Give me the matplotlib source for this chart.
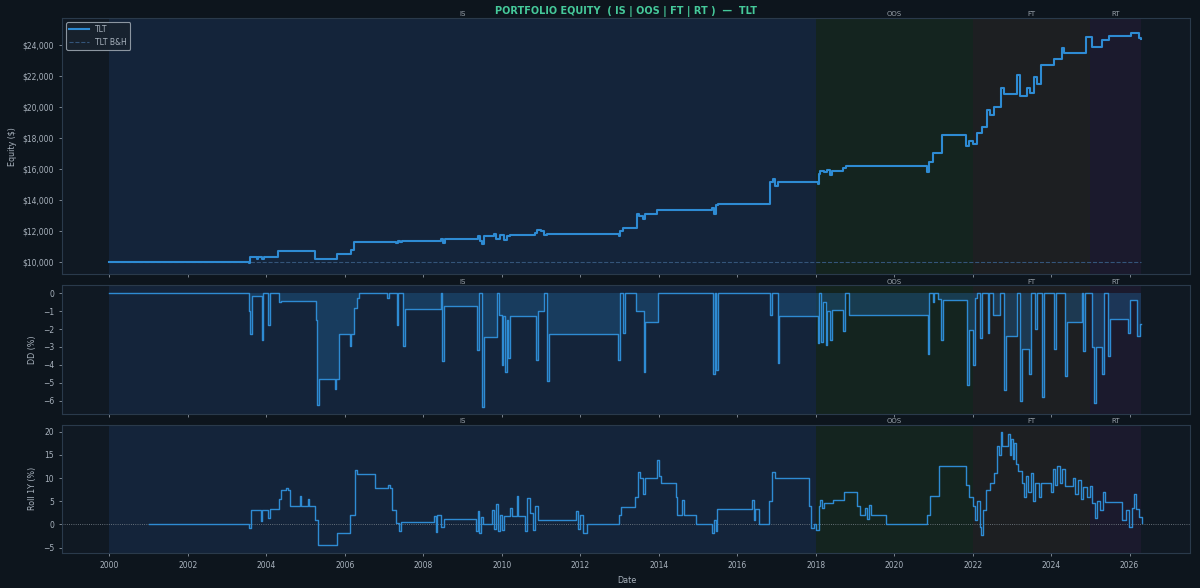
import matplotlib
matplotlib.use("Agg")
import matplotlib.pyplot as plt
from matplotlib.ticker import FuncFormatter

# equity curve (year, $) - step points
eq_year = [2000.00, 2003.55, 2003.58, 2003.75, 2003.78, 2003.90, 2003.93, 2004.30, 2005.25, 2005.80,
           2006.15, 2006.22, 2007.30, 2007.35, 2007.40, 2007.45, 2008.44, 2008.50, 2008.55, 2009.40,
           2009.45, 2009.50, 2009.55, 2009.80, 2009.85, 2009.95, 2010.05, 2010.12, 2010.20, 2010.85,
           2010.90, 2011.00, 2011.08, 2011.16, 2012.98, 2013.02, 2013.10, 2013.45, 2013.50, 2013.60,
           2013.65, 2013.95, 2015.35, 2015.40, 2015.45, 2015.50, 2016.83, 2016.90, 2016.97, 2017.03,
           2018.06, 2018.08, 2018.12, 2018.20, 2018.30, 2018.36, 2018.42, 2018.70, 2018.76, 2020.84,
           2020.88, 2021.00, 2021.21, 2021.82, 2021.90, 2022.00, 2022.12, 2022.25, 2022.37, 2022.45,
           2022.54, 2022.71, 2022.80, 2023.14, 2023.20, 2023.39, 2023.45, 2023.56, 2023.65, 2023.73,
           2024.07, 2024.28, 2024.33, 2024.79, 2024.88, 2025.05, 2025.30, 2025.47, 2026.03, 2026.24,
           2026.30]
eq_val = [10000, 9950, 10370, 10200, 10370, 10210, 10380, 10730, 10190, 10520,
          10780, 11300, 11230, 11380, 11300, 11370, 11480, 11250, 11540, 11700,
          11350, 11200, 11700, 11800, 11500, 11780, 11450, 11700, 11780, 11880,
          12100, 12050, 11750, 11820, 11700, 12050, 12230, 13120, 13000, 12800,
          13100, 13360, 13500, 13100, 13700, 13770, 15200, 15390, 14950, 15160,
          15050, 15700, 15920, 15800, 15950, 15650, 15880, 16100, 16180, 15800,
          16500, 17080, 18220, 17470, 17850, 17600, 18330, 18750, 19820, 19500,
          20030, 21210, 20820, 22100, 20700, 21210, 20900, 21960, 21500, 22710,
          23080, 23780, 23460, 23500, 24530, 23890, 24320, 24570, 24810, 24470,
          24400]
bh_val = [10000, 10000]
bh_year = [2000.0, 2026.3]

# drawdown (%)
dd_year = [2000.00, 2003.55, 2003.58, 2003.62, 2003.88, 2003.92, 2004.05, 2004.08, 2004.32, 2004.36,
           2005.26, 2005.29, 2005.34, 2005.74, 2005.78, 2005.84, 2006.12, 2006.16, 2006.22, 2006.30,
           2006.35, 2007.08, 2007.12, 2007.32, 2007.36, 2007.48, 2007.52, 2008.44, 2008.48, 2008.53,
           2009.37, 2009.41, 2009.50, 2009.54, 2009.88, 2009.92, 2010.00, 2010.04, 2010.08, 2010.12,
           2010.16, 2010.20, 2010.86, 2010.92, 2011.07, 2011.14, 2011.19, 2012.97, 2013.02, 2013.10,
           2013.14, 2013.43, 2013.62, 2013.66, 2013.97, 2015.38, 2015.43, 2015.47, 2015.52, 2016.83,
           2016.88, 2017.03, 2017.07, 2018.05, 2018.09, 2018.14, 2018.18, 2018.25, 2018.30, 2018.36,
           2018.42, 2018.70, 2018.75, 2018.84, 2020.85, 2020.90, 2020.98, 2021.02, 2021.12, 2021.20,
           2021.24, 2021.86, 2021.90, 2022.02, 2022.06, 2022.12, 2022.20, 2022.24, 2022.38, 2022.42,
           2022.52, 2022.70, 2022.80, 2022.85, 2023.14, 2023.20, 2023.25, 2023.44, 2023.50, 2023.60,
           2023.65, 2023.77, 2023.81, 2024.07, 2024.12, 2024.35, 2024.40, 2024.78, 2024.82, 2024.87,
           2025.03, 2025.10, 2025.14, 2025.30, 2025.35, 2025.44, 2025.49, 2025.96, 2026.00, 2026.20,
           2026.26, 2026.30]
dd_val = [0, -1.0, -2.3, -0.15, -2.6, 0, -1.8, 0, -0.5, -0.45,
          -1.5, -6.25, -4.8, -5.35, -4.8, -2.25, -2.95, -2.25, -0.85, -0.3,
          0, -0.3, 0, -1.8, 0, -2.95, -0.9, 0, -3.8, -0.7,
          -3.15, 0, -6.35, -2.45, 0, -1.2, -4.0, -1.3, -4.4, -1.5,
          -3.6, -1.3, -3.7, -1.0, 0, -4.9, -2.3, -3.7, 0, -2.2,
          0, -1.0, -4.4, -1.6, 0, -4.5, 0, -4.3, 0, -1.2,
          0, -3.9, -1.3, -2.8, 0, -2.7, -0.5, -2.9, -1.0, -2.6,
          -0.95, -2.1, 0, -1.2, -3.4, 0, -0.5, 0, -0.35, -2.6,
          -0.4, -5.1, -2.05, -4.0, -0.3, 0, -2.5, 0, -2.2, 0,
          -1.2, 0, -5.4, -2.4, 0, -6.0, -3.1, -4.5, 0, -2.0,
          0, -5.8, 0, -3.1, 0, -4.6, -1.6, 0, -3.2, 0,
          -3.0, -6.1, -3.0, -4.5, 0, -3.5, -1.45, -2.2, -0.4, -2.4,
          -1.7, -1.7]

# rolling 1-year return (%)
roll_year = [2001.00, 2003.55, 2003.60, 2003.85, 2003.88, 2004.05, 2004.08, 2004.32, 2004.36, 2004.50,
             2004.54, 2004.61, 2004.85, 2004.88, 2005.05, 2005.08, 2005.25, 2005.32, 2005.80, 2006.14,
             2006.25, 2006.30, 2006.78, 2007.10, 2007.14, 2007.20, 2007.30, 2007.38, 2007.42, 2008.27,
             2008.32, 2008.36, 2008.45, 2008.52, 2009.33, 2009.38, 2009.42, 2009.48, 2009.52, 2009.75,
             2009.80, 2009.85, 2009.90, 2009.95, 2010.00, 2010.05, 2010.20, 2010.25, 2010.38, 2010.42,
             2010.60, 2010.65, 2010.72, 2010.80, 2010.85, 2010.92, 2011.88, 2011.93, 2012.00, 2012.08,
             2012.18, 2012.98, 2013.05, 2013.40, 2013.47, 2013.52, 2013.60, 2013.65, 2013.95, 2014.00,
             2014.05, 2014.43, 2014.47, 2014.60, 2014.65, 2014.95, 2015.36, 2015.42, 2015.46, 2015.49,
             2016.38, 2016.42, 2016.46, 2016.55, 2016.81, 2016.88, 2016.95, 2017.83, 2017.88, 2017.95,
             2018.02, 2018.08, 2018.12, 2018.16, 2018.22, 2018.45, 2018.72, 2019.06, 2019.14, 2019.25,
             2019.30, 2019.35, 2019.40, 2019.78, 2020.84, 2020.92, 2021.15, 2021.82, 2021.90, 2022.00,
             2022.05, 2022.10, 2022.18, 2022.22, 2022.27, 2022.35, 2022.45, 2022.55, 2022.62, 2022.68,
             2022.72, 2022.76, 2022.90, 2022.94, 2022.98, 2023.02, 2023.06, 2023.10, 2023.16, 2023.25,
             2023.32, 2023.36, 2023.42, 2023.48, 2023.54, 2023.60, 2023.70, 2023.75, 2024.00, 2024.05,
             2024.10, 2024.15, 2024.22, 2024.28, 2024.35, 2024.55, 2024.60, 2024.68, 2024.75, 2024.82,
             2024.92, 2025.00, 2025.05, 2025.12, 2025.18, 2025.25, 2025.32, 2025.38, 2025.80, 2025.90,
             2025.98, 2026.05, 2026.11, 2026.17, 2026.25, 2026.32]
roll_val = [0, -0.8, 3.1, 0.8, 3.1, 1.3, 3.3, 5.5, 7.4, 7.9,
            7.4, 3.9, 6.2, 3.9, 5.5, 3.9, 1.0, -4.4, -1.9, 2.0,
            11.8, 10.8, 7.8, 8.4, 7.8, 3.0, 0.4, -1.5, 0.5, 1.8,
            -1.6, 2.0, -0.5, 1.2, -1.5, 2.8, -1.8, 1.5, 0.0, 3.0,
            -1.0, 4.5, -1.5, 2.0, -1.2, 1.9, 3.5, 1.9, 6.2, 1.9,
            -1.5, 5.8, 2.5, -1.2, 4.0, 1.0, 2.8, -1.0, 2.0, -1.8,
            0.0, 2.0, 3.8, 6.0, 11.4, 10.0, 6.5, 10.0, 13.9, 10.5,
            8.9, 6.0, 2.1, 5.3, 2.1, 0.0, -1.9, 1.0, -1.5, 3.3,
            5.3, 1.0, 3.3, 0.0, 5.0, 11.4, 10.0, 4.0, -0.8, 0.0,
            -1.2, 4.0, 5.3, 3.5, 4.6, 5.3, 6.9, 4.0, 2.1, 3.5,
            1.2, 4.2, 2.1, 0.0, 2.1, 6.1, 12.5, 8.5, 6.0, 4.0,
            1.0, 5.0, -0.5, -2.3, 3.0, 7.4, 9.0, 11.1, 16.8, 15.0,
            20.0, 16.8, 19.5, 15.0, 18.5, 14.0, 17.5, 13.0, 11.5, 9.0,
            6.0, 10.5, 7.0, 11.0, 5.0, 9.0, 6.0, 9.0, 7.0, 12.0,
            8.5, 12.5, 9.0, 12.0, 8.2, 10.0, 6.5, 9.5, 5.5, 8.0,
            6.0, 8.2, 4.6, 1.3, 5.0, 3.0, 6.9, 4.9, 1.0, 3.0,
            -0.5, 3.5, 6.5, 3.3, 1.7, 0.3]

# sample periods
periods = ["IS", "OOS", "FT", "RT"]
period_start = [2000.0, 2018.0, 2022.0, 2025.0]
period_end = [2018.0, 2022.0, 2025.0, 2026.3]
period_color = ["#14243a", "#14241f", "#1d1f22", "#1b1a2d"]

BG = "#0d151d"
AX_BG = "#101923"
LINE = "#2e8bd3"
TXT = "#a9b3be"
SPINE = "#2a3a4b"

fig, axes = plt.subplots(3, 1, figsize=(12, 5.88), dpi=100, sharex=True,
                         gridspec_kw={"height_ratios": [2, 1, 1], "hspace": 0.065})
fig.patch.set_facecolor(BG)
plt.subplots_adjust(left=0.052, right=0.992, top=0.969, bottom=0.06)

for ax in axes:
    ax.set_facecolor(AX_BG)
    for s in ax.spines.values():
        s.set_color(SPINE)
        s.set_linewidth(0.8)
    ax.tick_params(colors="#8d97a2", labelcolor=TXT, labelsize=5.5, length=2.5, width=0.6)
    for name, a, b, c in zip(periods, period_start, period_end, period_color):
        ax.axvspan(a, b, color=c, zorder=0, lw=0)
        ax.text((a + b) / 2, 1.006, name, transform=ax.get_xaxis_transform(),
                ha="center", va="bottom", fontsize=5.0, color="#98a1aa")

# equity
ax = axes[0]
ax.plot(eq_year, eq_val, drawstyle="steps-post", color=LINE, lw=1.5, label="TLT", zorder=3)
ax.plot(bh_year, bh_val, color="#34557a", lw=0.8, ls="--", label="TLT B&H", zorder=2)
ax.set_ylabel("Equity ($)", color=TXT, fontsize=5.8)
ax.yaxis.set_major_formatter(FuncFormatter(lambda v, p: "${:,.0f}".format(v)))
ax.set_yticks([10000, 12000, 14000, 16000, 18000, 20000, 22000, 24000])
ax.set_ylim(9230, 25730)
ax.set_title("PORTFOLIO EQUITY  ( IS | OOS | FT | RT )  —  TLT", color="#45c99a",
             fontsize=7.0, fontweight="bold", pad=3)
leg = ax.legend(loc="upper left", fontsize=5.5, facecolor="#18222e", edgecolor="#9aa4ae",
                labelcolor=TXT, framealpha=0.9, borderpad=0.4, handlelength=2.6)
leg.get_frame().set_linewidth(0.8)

# drawdown
ax = axes[1]
ax.fill_between(dd_year, dd_val, 0, step="post", color="#1f5a8c", alpha=0.45, lw=0, zorder=2)
ax.plot(dd_year, dd_val, drawstyle="steps-post", color=LINE, lw=1.0, zorder=3)
ax.set_ylabel("DD (%)", color=TXT, fontsize=5.8)
ax.set_yticks([0, -1, -2, -3, -4, -5, -6])
ax.set_ylim(-6.7, 0.42)

# rolling 1y
ax = axes[2]
ax.axhline(0, color="#7f8891", lw=0.6, ls=":", zorder=2)
ax.plot(roll_year, roll_val, drawstyle="steps-post", color=LINE, lw=1.0, zorder=3)
ax.set_ylabel("Roll 1Y (%)", color=TXT, fontsize=5.8)
ax.set_yticks([-5, 0, 5, 10, 15, 20])
ax.set_ylim(-6.1, 21.5)
ax.set_xlabel("Date", color=TXT, fontsize=5.8)
ax.set_xticks(range(2000, 2027, 2))
ax.set_xlim(1998.8, 2027.55)

fig.savefig("out.png", dpi=100, facecolor=BG)
